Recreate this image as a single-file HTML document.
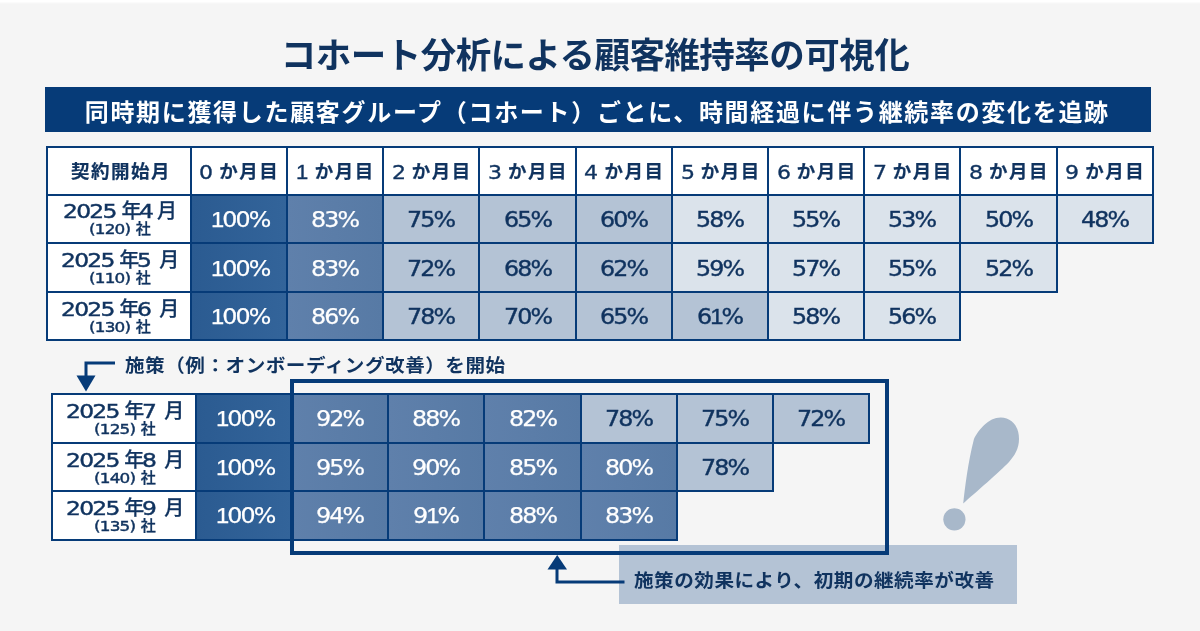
<!DOCTYPE html>
<html lang="ja">
<head>
<meta charset="utf-8">
<title>コホート分析による顧客維持率の可視化</title>
<style>
:root{--navy:#063b78;--txt:#10335f;--bg:#f5f5f5;--c100:#2d5e93;--dark:#5d7eaa;--mid:#b4c3d5;--light:#dbe3eb}
*{box-sizing:border-box;margin:0;padding:0}
html,body{width:1200px;height:631px;overflow:hidden;background:var(--bg)}
body{font-family:"Liberation Sans","Noto Sans CJK JP",sans-serif;color:var(--txt);position:relative}
#stage{position:absolute;left:0;top:0;width:1200px;height:631px;background:linear-gradient(#fff 0,#fff 1.5px,var(--bg) 4px,var(--bg) 100%);overflow:hidden}
h1{position:absolute;left:-3px;top:32px;width:1196px;text-align:center;font-size:35.5px;line-height:48px;font-weight:700;letter-spacing:-.53px;color:var(--txt);white-space:nowrap}
.banner{position:absolute;left:45px;top:87px;width:1105.5px;height:44.5px;background:var(--navy);color:#fff;font-size:24px;font-weight:700;line-height:51px;text-align:center;letter-spacing:1.68px;white-space:nowrap;overflow:hidden;padding-right:1px}
.c{position:absolute;border:2px solid var(--navy);white-space:nowrap}
.t{position:absolute;left:0;right:0;text-align:center;white-space:nowrap}
.h{background:#fff}
.th{top:12px;line-height:24px;font-size:18.5px;font-weight:700;padding-left:1.5px}
.th0{padding-left:4.5px}
.ht{letter-spacing:1.5px;-webkit-text-stroke:.2px currentColor}
.lab{background:#fff}
.v100{background:var(--c100) linear-gradient(90deg,#2b5b91,#33649a);color:#fff}
.vd{background:var(--dark) linear-gradient(90deg,#5f80ab,#577aa5);color:#fff}
.vm{background:var(--mid)}
.vl{background:var(--light)}
.l1{top:5px;line-height:22px;font-size:20px;font-weight:500;padding-left:3px}
.l2{top:26px;line-height:16px;font-size:15px;font-weight:500;padding-left:2px}
.tv{top:13px;line-height:26px}
.w{display:inline-block;line-height:1;vertical-align:baseline;transform-origin:0 50%;font-family:"DejaVu Sans","Liberation Sans",sans-serif;font-weight:400;white-space:nowrap}
.o1{font-family:"Liberation Sans",sans-serif}
.k{-webkit-text-stroke:.25px currentColor}
.k1{margin:0 -2.5px 0 5.5px}
.km{margin-left:5px}
.km.sp{margin-left:3.94px}
.k2{margin-left:1.83px;-webkit-text-stroke:.3px currentColor}
.d{-webkit-text-stroke:.45px currentColor}
.d2{-webkit-text-stroke:.45px currentColor}
.hn{-webkit-text-stroke:.35px currentColor;position:relative;top:1px}
.p{-webkit-text-stroke:.4px currentColor}
.v100 .p,.vd .p{-webkit-text-stroke:.25px currentColor}
.note1{position:absolute;left:125px;top:353px;font-size:18.5px;line-height:26px;font-weight:700;letter-spacing:.47px;white-space:nowrap;transform:scaleX(1.06);transform-origin:0 50%}
.hl{position:absolute;left:290px;top:379px;width:599px;height:176px;border:4px solid var(--navy)}
.callout{position:absolute;left:619px;top:545px;width:398px;height:59px;background:var(--mid)}
.callout span{position:absolute;left:15px;top:23px;font-size:18.5px;line-height:26px;font-weight:700;letter-spacing:.46px;white-space:nowrap;transform:scaleX(1.06);transform-origin:0 50%}
.ln{stroke:var(--navy)}
.fl{fill:var(--navy)}
svg.ov{position:absolute;left:0;top:0;width:1200px;height:631px;pointer-events:none}
</style>
</head>
<body>
<div id="stage">
<h1>コホート分析による顧客維持率の可視化</h1>
<div class="banner">同時期に獲得した顧客グループ（コホート）ごとに、時間経過に伴う継続率の変化を追跡</div>
<section class="t1">
<div class="c h h0" style="left:46px;top:146px;width:145.5px;height:50px;"><div class="t th th0"><span class="ht">契約開始月</span></div></div>
<div class="c h" style="left:189.5px;top:146px;width:98px;height:50px;"><div class="t th"><span class="w hn" style="font-size:19.5px;letter-spacing:0px;transform:scaleX(1.13);margin-right:2.57px">0</span> <span class="ht">か月目</span></div></div>
<div class="c h" style="left:285.5px;top:146px;width:98.5px;height:50px;"><div class="t th"><span class="w hn" style="font-size:19.5px;letter-spacing:0px;transform:scaleX(1.13);margin-right:2.37px"><span class="o1">1</span></span> <span class="ht">か月目</span></div></div>
<div class="c h" style="left:382px;top:146px;width:98px;height:50px;"><div class="t th"><span class="w hn" style="font-size:19.5px;letter-spacing:0px;transform:scaleX(1.13);margin-right:2.57px">2</span> <span class="ht">か月目</span></div></div>
<div class="c h" style="left:478px;top:146px;width:98.5px;height:50px;"><div class="t th"><span class="w hn" style="font-size:19.5px;letter-spacing:0px;transform:scaleX(1.13);margin-right:2.57px">3</span> <span class="ht">か月目</span></div></div>
<div class="c h" style="left:574.5px;top:146px;width:98.5px;height:50px;"><div class="t th"><span class="w hn" style="font-size:19.5px;letter-spacing:0px;transform:scaleX(1.13);margin-right:2.57px">4</span> <span class="ht">か月目</span></div></div>
<div class="c h" style="left:671px;top:146px;width:98px;height:50px;"><div class="t th"><span class="w hn" style="font-size:19.5px;letter-spacing:0px;transform:scaleX(1.13);margin-right:2.57px">5</span> <span class="ht">か月目</span></div></div>
<div class="c h" style="left:767px;top:146px;width:98px;height:50px;"><div class="t th"><span class="w hn" style="font-size:19.5px;letter-spacing:0px;transform:scaleX(1.13);margin-right:2.57px">6</span> <span class="ht">か月目</span></div></div>
<div class="c h" style="left:863px;top:146px;width:98px;height:50px;"><div class="t th"><span class="w hn" style="font-size:19.5px;letter-spacing:0px;transform:scaleX(1.13);margin-right:2.57px">7</span> <span class="ht">か月目</span></div></div>
<div class="c h" style="left:959px;top:146px;width:98.5px;height:50px;"><div class="t th"><span class="w hn" style="font-size:19.5px;letter-spacing:0px;transform:scaleX(1.13);margin-right:2.57px">8</span> <span class="ht">か月目</span></div></div>
<div class="c h" style="left:1055.5px;top:146px;width:98px;height:50px;"><div class="t th"><span class="w hn" style="font-size:19.5px;letter-spacing:0px;transform:scaleX(1.13);margin-right:2.57px">9</span> <span class="ht">か月目</span></div></div>
<div class="c lab" style="left:46px;top:194px;width:145.5px;height:50px;"><div class="t l1" style="margin-top:-1px"><span class="w d" style="font-size:20px;letter-spacing:-1.5px;transform:scaleX(1.17);margin-right:7.63px">2025</span><span class="k k1">年</span><span class="w d" style="font-size:20px;letter-spacing:-1.5px;transform:scaleX(1.17);margin-right:1.91px">4</span><span class="k km">月</span></div><div class="t l2" style="margin-top:-1px"><span class="w d2" style="font-size:14.5px;letter-spacing:-0.7px;transform:scaleX(1.16);margin-right:5.68px">(120)</span> <span class="k2">社</span></div></div>
<div class="c v v100" style="left:189.5px;top:194px;width:98px;height:50px;"><div class="t tv" style="padding-left:2.6px;"><span class="w p" style="font-size:22px;letter-spacing:-1.75px;transform:scaleX(1.08);margin-right:4.33px"><span class="o1">1</span>00%</span></div></div>
<div class="c v vd" style="left:285.5px;top:194px;width:98.5px;height:50px;"><div class="t tv"><span class="w p" style="font-size:22px;letter-spacing:-1.75px;transform:scaleX(1.08);margin-right:3.49px">83%</span></div></div>
<div class="c v vm" style="left:382px;top:194px;width:98px;height:50px;"><div class="t tv"><span class="w p" style="font-size:22px;letter-spacing:-1.75px;transform:scaleX(1.08);margin-right:3.49px">75%</span></div></div>
<div class="c v vm" style="left:478px;top:194px;width:98.5px;height:50px;"><div class="t tv"><span class="w p" style="font-size:22px;letter-spacing:-1.75px;transform:scaleX(1.08);margin-right:3.49px">65%</span></div></div>
<div class="c v vm" style="left:574.5px;top:194px;width:98.5px;height:50px;"><div class="t tv"><span class="w p" style="font-size:22px;letter-spacing:-1.75px;transform:scaleX(1.08);margin-right:3.49px">60%</span></div></div>
<div class="c v vl" style="left:671px;top:194px;width:98px;height:50px;"><div class="t tv"><span class="w p" style="font-size:22px;letter-spacing:-1.75px;transform:scaleX(1.08);margin-right:3.49px">58%</span></div></div>
<div class="c v vl" style="left:767px;top:194px;width:98px;height:50px;"><div class="t tv"><span class="w p" style="font-size:22px;letter-spacing:-1.75px;transform:scaleX(1.08);margin-right:3.49px">55%</span></div></div>
<div class="c v vl" style="left:863px;top:194px;width:98px;height:50px;"><div class="t tv"><span class="w p" style="font-size:22px;letter-spacing:-1.75px;transform:scaleX(1.08);margin-right:3.49px">53%</span></div></div>
<div class="c v vl" style="left:959px;top:194px;width:98.5px;height:50px;"><div class="t tv"><span class="w p" style="font-size:22px;letter-spacing:-1.75px;transform:scaleX(1.08);margin-right:3.49px">50%</span></div></div>
<div class="c v vl" style="left:1055.5px;top:194px;width:98px;height:50px;"><div class="t tv"><span class="w p" style="font-size:22px;letter-spacing:-1.75px;transform:scaleX(1.08);margin-right:3.49px">48%</span></div></div>
<div class="c lab" style="left:46px;top:242px;width:145.5px;height:51px;"><div class="t l1"><span class="w d" style="font-size:20px;letter-spacing:-1.5px;transform:scaleX(1.17);margin-right:7.63px">2025</span><span class="k k1">年</span><span class="w d" style="font-size:20px;letter-spacing:-1.5px;transform:scaleX(1.17);margin-right:1.91px">5</span> <span class="k km sp">月</span></div><div class="t l2"><span class="w d2" style="font-size:14.5px;letter-spacing:-0.7px;transform:scaleX(1.16);margin-right:5.68px">(110)</span> <span class="k2">社</span></div></div>
<div class="c v v100" style="left:189.5px;top:242px;width:98px;height:51px;"><div class="t tv" style="margin-top:1px;padding-left:2.6px;"><span class="w p" style="font-size:22px;letter-spacing:-1.75px;transform:scaleX(1.08);margin-right:4.33px"><span class="o1">1</span>00%</span></div></div>
<div class="c v vd" style="left:285.5px;top:242px;width:98.5px;height:51px;"><div class="t tv" style="margin-top:1px;"><span class="w p" style="font-size:22px;letter-spacing:-1.75px;transform:scaleX(1.08);margin-right:3.49px">83%</span></div></div>
<div class="c v vm" style="left:382px;top:242px;width:98px;height:51px;"><div class="t tv" style="margin-top:1px;"><span class="w p" style="font-size:22px;letter-spacing:-1.75px;transform:scaleX(1.08);margin-right:3.49px">72%</span></div></div>
<div class="c v vm" style="left:478px;top:242px;width:98.5px;height:51px;"><div class="t tv" style="margin-top:1px;"><span class="w p" style="font-size:22px;letter-spacing:-1.75px;transform:scaleX(1.08);margin-right:3.49px">68%</span></div></div>
<div class="c v vm" style="left:574.5px;top:242px;width:98.5px;height:51px;"><div class="t tv" style="margin-top:1px;"><span class="w p" style="font-size:22px;letter-spacing:-1.75px;transform:scaleX(1.08);margin-right:3.49px">62%</span></div></div>
<div class="c v vl" style="left:671px;top:242px;width:98px;height:51px;"><div class="t tv" style="margin-top:1px;"><span class="w p" style="font-size:22px;letter-spacing:-1.75px;transform:scaleX(1.08);margin-right:3.49px">59%</span></div></div>
<div class="c v vl" style="left:767px;top:242px;width:98px;height:51px;"><div class="t tv" style="margin-top:1px;"><span class="w p" style="font-size:22px;letter-spacing:-1.75px;transform:scaleX(1.08);margin-right:3.49px">57%</span></div></div>
<div class="c v vl" style="left:863px;top:242px;width:98px;height:51px;"><div class="t tv" style="margin-top:1px;"><span class="w p" style="font-size:22px;letter-spacing:-1.75px;transform:scaleX(1.08);margin-right:3.49px">55%</span></div></div>
<div class="c v vl" style="left:959px;top:242px;width:98.5px;height:51px;"><div class="t tv" style="margin-top:1px;"><span class="w p" style="font-size:22px;letter-spacing:-1.75px;transform:scaleX(1.08);margin-right:3.49px">52%</span></div></div>
<div class="c lab" style="left:46px;top:291px;width:145.5px;height:50px;"><div class="t l1"><span class="w d" style="font-size:20px;letter-spacing:-1.5px;transform:scaleX(1.17);margin-right:7.63px">2025</span><span class="k k1">年</span><span class="w d" style="font-size:20px;letter-spacing:-1.5px;transform:scaleX(1.17);margin-right:1.91px">6</span> <span class="k km sp">月</span></div><div class="t l2"><span class="w d2" style="font-size:14.5px;letter-spacing:-0.7px;transform:scaleX(1.16);margin-right:5.68px">(130)</span> <span class="k2">社</span></div></div>
<div class="c v v100" style="left:189.5px;top:291px;width:98px;height:50px;"><div class="t tv" style="padding-left:2.6px;"><span class="w p" style="font-size:22px;letter-spacing:-1.75px;transform:scaleX(1.08);margin-right:4.33px"><span class="o1">1</span>00%</span></div></div>
<div class="c v vd" style="left:285.5px;top:291px;width:98.5px;height:50px;"><div class="t tv"><span class="w p" style="font-size:22px;letter-spacing:-1.75px;transform:scaleX(1.08);margin-right:3.49px">86%</span></div></div>
<div class="c v vm" style="left:382px;top:291px;width:98px;height:50px;"><div class="t tv"><span class="w p" style="font-size:22px;letter-spacing:-1.75px;transform:scaleX(1.08);margin-right:3.49px">78%</span></div></div>
<div class="c v vm" style="left:478px;top:291px;width:98.5px;height:50px;"><div class="t tv"><span class="w p" style="font-size:22px;letter-spacing:-1.75px;transform:scaleX(1.08);margin-right:3.49px">70%</span></div></div>
<div class="c v vm" style="left:574.5px;top:291px;width:98.5px;height:50px;"><div class="t tv"><span class="w p" style="font-size:22px;letter-spacing:-1.75px;transform:scaleX(1.08);margin-right:3.49px">65%</span></div></div>
<div class="c v vm" style="left:671px;top:291px;width:98px;height:50px;"><div class="t tv"><span class="w p" style="font-size:22px;letter-spacing:-1.75px;transform:scaleX(1.08);margin-right:3.35px">6<span class="o1">1</span>%</span></div></div>
<div class="c v vl" style="left:767px;top:291px;width:98px;height:50px;"><div class="t tv"><span class="w p" style="font-size:22px;letter-spacing:-1.75px;transform:scaleX(1.08);margin-right:3.49px">58%</span></div></div>
<div class="c v vl" style="left:863px;top:291px;width:98px;height:50px;"><div class="t tv"><span class="w p" style="font-size:22px;letter-spacing:-1.75px;transform:scaleX(1.08);margin-right:3.49px">56%</span></div></div>
</section>
<div class="note1">施策（例：オンボーディング改善）を開始</div>
<div class="callout"><span>施策の効果により、初期の継続率が改善</span></div>
<section class="t2">
<div class="c lab" style="left:51px;top:393px;width:145.5px;height:51px;"><div class="t l1"><span class="w d" style="font-size:20px;letter-spacing:-1.5px;transform:scaleX(1.17);margin-right:7.63px">2025</span><span class="k k1">年</span><span class="w d" style="font-size:20px;letter-spacing:-1.5px;transform:scaleX(1.17);margin-right:1.91px">7</span> <span class="k km sp">月</span></div><div class="t l2"><span class="w d2" style="font-size:14.5px;letter-spacing:-0.7px;transform:scaleX(1.16);margin-right:5.68px">(125)</span> <span class="k2">社</span></div></div>
<div class="c v v100" style="left:194.5px;top:393px;width:98.5px;height:51px;"><div class="t tv" style="padding-left:2.6px;"><span class="w p" style="font-size:22px;letter-spacing:-1.75px;transform:scaleX(1.08);margin-right:4.33px"><span class="o1">1</span>00%</span></div></div>
<div class="c v vd" style="left:291px;top:393px;width:98px;height:51px;"><div class="t tv"><span class="w p" style="font-size:22px;letter-spacing:-1.75px;transform:scaleX(1.08);margin-right:3.49px">92%</span></div></div>
<div class="c v vd" style="left:387px;top:393px;width:98px;height:51px;"><div class="t tv"><span class="w p" style="font-size:22px;letter-spacing:-1.75px;transform:scaleX(1.08);margin-right:3.49px">88%</span></div></div>
<div class="c v vd" style="left:483px;top:393px;width:98.5px;height:51px;"><div class="t tv"><span class="w p" style="font-size:22px;letter-spacing:-1.75px;transform:scaleX(1.08);margin-right:3.49px">82%</span></div></div>
<div class="c v vm" style="left:579.5px;top:393px;width:98.5px;height:51px;"><div class="t tv"><span class="w p" style="font-size:22px;letter-spacing:-1.75px;transform:scaleX(1.08);margin-right:3.49px">78%</span></div></div>
<div class="c v vm" style="left:676px;top:393px;width:98px;height:51px;"><div class="t tv"><span class="w p" style="font-size:22px;letter-spacing:-1.75px;transform:scaleX(1.08);margin-right:3.49px">75%</span></div></div>
<div class="c v vm" style="left:772px;top:393px;width:98px;height:51px;"><div class="t tv"><span class="w p" style="font-size:22px;letter-spacing:-1.75px;transform:scaleX(1.08);margin-right:3.49px">72%</span></div></div>
<div class="c lab" style="left:51px;top:442px;width:145.5px;height:50px;"><div class="t l1"><span class="w d" style="font-size:20px;letter-spacing:-1.5px;transform:scaleX(1.17);margin-right:7.63px">2025</span><span class="k k1">年</span><span class="w d" style="font-size:20px;letter-spacing:-1.5px;transform:scaleX(1.17);margin-right:1.91px">8</span> <span class="k km sp">月</span></div><div class="t l2"><span class="w d2" style="font-size:14.5px;letter-spacing:-0.7px;transform:scaleX(1.16);margin-right:5.68px">(140)</span> <span class="k2">社</span></div></div>
<div class="c v v100" style="left:194.5px;top:442px;width:98.5px;height:50px;"><div class="t tv" style="padding-left:2.6px;"><span class="w p" style="font-size:22px;letter-spacing:-1.75px;transform:scaleX(1.08);margin-right:4.33px"><span class="o1">1</span>00%</span></div></div>
<div class="c v vd" style="left:291px;top:442px;width:98px;height:50px;"><div class="t tv"><span class="w p" style="font-size:22px;letter-spacing:-1.75px;transform:scaleX(1.08);margin-right:3.49px">95%</span></div></div>
<div class="c v vd" style="left:387px;top:442px;width:98px;height:50px;"><div class="t tv"><span class="w p" style="font-size:22px;letter-spacing:-1.75px;transform:scaleX(1.08);margin-right:3.49px">90%</span></div></div>
<div class="c v vd" style="left:483px;top:442px;width:98.5px;height:50px;"><div class="t tv"><span class="w p" style="font-size:22px;letter-spacing:-1.75px;transform:scaleX(1.08);margin-right:3.49px">85%</span></div></div>
<div class="c v vd" style="left:579.5px;top:442px;width:98.5px;height:50px;"><div class="t tv"><span class="w p" style="font-size:22px;letter-spacing:-1.75px;transform:scaleX(1.08);margin-right:3.49px">80%</span></div></div>
<div class="c v vm" style="left:676px;top:442px;width:98px;height:50px;"><div class="t tv"><span class="w p" style="font-size:22px;letter-spacing:-1.75px;transform:scaleX(1.08);margin-right:3.49px">78%</span></div></div>
<div class="c lab" style="left:51px;top:490px;width:145.5px;height:51px;"><div class="t l1"><span class="w d" style="font-size:20px;letter-spacing:-1.5px;transform:scaleX(1.17);margin-right:7.63px">2025</span><span class="k k1">年</span><span class="w d" style="font-size:20px;letter-spacing:-1.5px;transform:scaleX(1.17);margin-right:1.91px">9</span> <span class="k km sp">月</span></div><div class="t l2"><span class="w d2" style="font-size:14.5px;letter-spacing:-0.7px;transform:scaleX(1.16);margin-right:5.68px">(135)</span> <span class="k2">社</span></div></div>
<div class="c v v100" style="left:194.5px;top:490px;width:98.5px;height:51px;"><div class="t tv" style="padding-left:2.6px;"><span class="w p" style="font-size:22px;letter-spacing:-1.75px;transform:scaleX(1.08);margin-right:4.33px"><span class="o1">1</span>00%</span></div></div>
<div class="c v vd" style="left:291px;top:490px;width:98px;height:51px;"><div class="t tv"><span class="w p" style="font-size:22px;letter-spacing:-1.75px;transform:scaleX(1.08);margin-right:3.49px">94%</span></div></div>
<div class="c v vd" style="left:387px;top:490px;width:98px;height:51px;"><div class="t tv"><span class="w p" style="font-size:22px;letter-spacing:-1.75px;transform:scaleX(1.08);margin-right:3.35px">9<span class="o1">1</span>%</span></div></div>
<div class="c v vd" style="left:483px;top:490px;width:98.5px;height:51px;"><div class="t tv"><span class="w p" style="font-size:22px;letter-spacing:-1.75px;transform:scaleX(1.08);margin-right:3.49px">88%</span></div></div>
<div class="c v vd" style="left:579.5px;top:490px;width:98.5px;height:51px;"><div class="t tv"><span class="w p" style="font-size:22px;letter-spacing:-1.75px;transform:scaleX(1.08);margin-right:3.49px">83%</span></div></div>
</section>
<div class="hl"></div>
<svg class="ov" viewBox="0 0 1200 631">
  <path d="M115 363 H86 V377" fill="none" class="ln" stroke-width="3"/>
  <path d="M76.5 375.5 H95.5 L86 391.5 Z" class="fl"/>
  <path d="M624.5 582 H557 V568" fill="none" class="ln" stroke-width="3"/>
  <path d="M547.5 569.5 H567 L557.2 555 Z" class="fl"/>
  <path d="M963.2 503.5 C965 488 968 462 973.9 439.3 C978 430 988.5 417.4 1000.7 417.4 C1011.5 417.4 1019 426 1019 439 C1019 448 1015 455.5 1009 462 C1000 471.5 975 493 963.2 503.5 Z" fill="#a8b8ca"/>
  <circle cx="954.4" cy="519.3" r="11.1" fill="#a8b8ca"/>
</svg>
</div>
</body>
</html>
